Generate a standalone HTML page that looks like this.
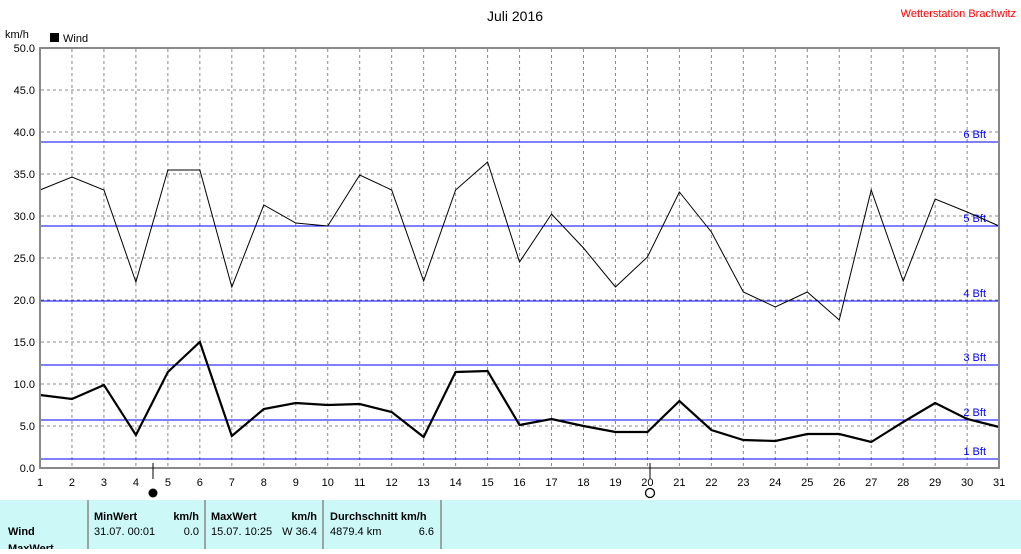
<!DOCTYPE html>
<html><head><meta charset="utf-8"><style>
body{margin:0;background:#fff;}
svg text{font-family:"Liberation Sans",sans-serif;}
</style></head><body>
<svg width="1021" height="549" xmlns="http://www.w3.org/2000/svg">
<rect width="1021" height="549" fill="#fff"/>
<text x="515" y="21" font-size="14" text-anchor="middle">Juli 2016</text>
<text x="1016" y="17" font-size="11" fill="#f00" text-anchor="end">Wetterstation Brachwitz</text>
<text x="5" y="38" font-size="11">km/h</text>
<rect x="50" y="33" width="9" height="9" fill="#000"/>
<text x="63" y="42" font-size="11">Wind</text>
<g id="grid" stroke="#888" stroke-dasharray="3,3" stroke-width="1">
</g>
<g id="bft" stroke="#00f" stroke-width="1"></g>
<g font-size="11" fill="#00f" text-anchor="end">
<text x="986" y="138">6 Bft</text><text x="986" y="222">5 Bft</text><text x="986" y="297">4 Bft</text>
<text x="986" y="361">3 Bft</text><text x="986" y="416">2 Bft</text><text x="986" y="455">1 Bft</text>
</g>
<g id="ylab" font-size="11" text-anchor="end"></g>
<g id="xlab" font-size="11" text-anchor="middle"></g>
<polyline id="mx" fill="none" stroke="#000" stroke-width="1"/>
<polyline id="av" fill="none" stroke="#000" stroke-width="2.2"/>
<line x1="40" y1="47" x2="40" y2="469" stroke="#888" stroke-width="2"/>
<line x1="999" y1="47" x2="999" y2="469" stroke="#888" stroke-width="2"/>
<line x1="39" y1="48" x2="1000" y2="48" stroke="#888" stroke-width="2"/>
<line x1="39" y1="468" x2="1000" y2="468" stroke="#888" stroke-width="2"/>
<line x1="153" y1="463" x2="153" y2="479" stroke="#000"/>
<circle cx="153" cy="493" r="4.5" fill="#000"/>
<line x1="650" y1="463" x2="650" y2="479" stroke="#000"/>
<circle cx="650" cy="493" r="4.5" fill="none" stroke="#000" stroke-width="1.3"/>
<rect x="0" y="500" width="1021" height="49" fill="#ccf8f8"/>
<g stroke="#888" stroke-width="1.5">
<line x1="88" y1="500" x2="88" y2="549"/><line x1="205" y1="500" x2="205" y2="549"/>
<line x1="323" y1="500" x2="323" y2="549"/><line x1="441" y1="500" x2="441" y2="549"/>
</g>
<g font-size="11">
<text x="94" y="520" font-weight="bold">MinWert</text><text x="199" y="520" font-weight="bold" text-anchor="end">km/h</text>
<text x="94" y="535">31.07.  00:01</text><text x="199" y="535" text-anchor="end">0.0</text>
<text x="211" y="520" font-weight="bold">MaxWert</text><text x="317" y="520" font-weight="bold" text-anchor="end">km/h</text>
<text x="211" y="535">15.07.  10:25</text><text x="317" y="535" text-anchor="end">W 36.4</text>
<text x="330" y="520" font-weight="bold">Durchschnitt km/h</text>
<text x="330" y="535">4879.4 km</text><text x="434" y="535" text-anchor="end">6.6</text>
<text x="8" y="535" font-weight="bold">Wind</text>
<text x="8" y="552" font-weight="bold">MaxWert</text>
</g>
</svg>
<script>
var ns="http://www.w3.org/2000/svg";
function X(d){return 40+(d-1)*31.97;}
function el(p,t,a){var e=document.createElementNS(ns,t);for(var k in a)e.setAttribute(k,a[k]);document.getElementById(p).appendChild(e);return e;}
for(var d=2;d<=30;d++)el("grid","line",{x1:X(d),y1:49,x2:X(d),y2:467});
for(var v=5;v<50;v+=5){var y=468-v*8.4;el("grid","line",{x1:41,y1:y,x2:998,y2:y});}
[142,226,301,365,420,459].forEach(function(y){el("bft","line",{x1:41,y1:y,x2:998,y2:y});});
for(var v=0;v<=50;v+=5){var y=468-v*8.4;var t=el("ylab","text",{x:35,y:y+4});t.textContent=v.toFixed(1);}
for(var d=1;d<=31;d++){var t=el("xlab","text",{x:X(d),y:486});t.textContent=d;}
var mx=[190,177,190,282,170,170,287,205,223,226,175,190,281,190,162,262,214,248,287,257,192,232,292,307,292,320,190,281,199,212,226];
var av=[395,399,385,435,372,342,436,409,403,405,404,412,437,372,371,425,419,426,432,432,401,430,440,441,434,434,442,422,403,419,427];
document.getElementById("mx").setAttribute("points",mx.map(function(y,i){return X(i+1)+","+y}).join(" "));
document.getElementById("av").setAttribute("points",av.map(function(y,i){return X(i+1)+","+y}).join(" "));
</script>
</body></html>
